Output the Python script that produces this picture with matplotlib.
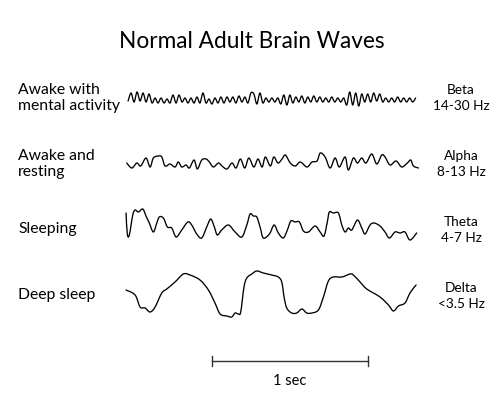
import numpy as np
import matplotlib
matplotlib.use("Agg")
import matplotlib.pyplot as plt
from matplotlib.path import Path
from matplotlib.patches import PathPatch

plt.rcParams['font.family'] = ['Lato', 'DejaVu Sans']

# wave traces: time in ms, amplitude in px (down is positive)
beta_step_ms = 19.2
beta_amp = [2, -6, 3, -7, 2, -6, 3, -5,
            4, -1, 4, -1, 4, 0, 4,
            -4, 4, -4, 3,
            -1, 4, -1, 4, -2, 4,
            -6, 4,
            0, 5, -1, 4, -2, 4,
            -2, 3, -2, 4, -3, 3, -2, 4,
            -6, -5, 5, -6, 4,
            -1, 3, -1, 3, -1,
            5, -4, 6, -4,
            4, -2, 3, -3, 4, -2, 3, -3, 3, -2,
            3, -1, 3, -2, 3, -1, 3, -1,
            6, -7, 6, -6, 7, -5,
            3, -5, 3, -6, 2, -5,
            3, -1, 3, -1, 3, -2, 3, -1, 3, -1, 3, -1]

alpha_t = [4, 37, 69, 94, 128, 154, 175, 207, 229, 250, 282, 314, 335, 357, 385,
           406, 436, 457, 485, 513, 534, 560, 592, 615, 647, 679, 705, 733, 761,
           787, 819, 846, 872, 893, 925, 947, 974, 1000, 1021, 1053, 1085, 1117,
           1160, 1192, 1224, 1245, 1276, 1308, 1340, 1367, 1404, 1425, 1457, 1483,
           1511, 1538, 1575, 1607, 1639, 1660, 1692, 1731, 1767, 1803, 1825, 1842,
           1874]
alpha_amp = [1, 6, 1, 4, -4, 5, -4, -6, -5, 4, 2, 5, 0, 5, 3,
             6, -2, 7, -2, -3, 0, 5, 1, 4, 7, 1, 6, -3, 6,
             -4, 5, -3, 5, -5, 4, -5, 1, -3, -7, 1, 4, 0,
             5, 0, -1, -9, -5, 6, -4, 5, -5, 8, -4, 1,
             -4, 1, -8, 2, -7, -5, 3, -1, 5, 1, -2, 4,
             6]

theta_t = [0, 8, 21, 43, 58, 79, 107, 128, 149, 175, 197, 213, 239, 265, 293,
           321, 357, 396, 421, 453, 485, 517, 543, 566, 585, 613, 656, 699, 742,
           774, 795, 816, 838, 859, 880, 919, 949, 976, 1008, 1034, 1056, 1083,
           1111, 1137, 1169, 1212, 1244, 1269, 1290, 1303, 1329, 1361, 1383, 1404,
           1425, 1447, 1483, 1511, 1532, 1564, 1590, 1628, 1660, 1688, 1724, 1756,
           1788, 1820, 1863]
theta_amp = [-12, 9, 10, -10, -15, -13, -16, -9, -2, 7, -2, -8, -7, 2, 3,
             12, 5, -3, 0, 9, 13, 2, -6, 2, 10, 5, 0, 7, 12,
             0, -11, -9, -8, 2, 13, 9, 0, 8, 13, 5, -4, -3,
             -3, 6, 7, 1, 7, 11, -3, -13, -12, -12, 0, 7,
             3, 5, -5, 3, 9, 0, -2, 1, 7, 13, 7, 8,
             7, 15, 8]

delta_t = [0, 58, 90, 122, 154, 186, 229, 261, 314, 367, 410, 474, 528, 570, 603,
           646, 677, 699, 720, 735, 756, 774, 806, 838, 880, 934, 976, 998, 1013,
           1030, 1062, 1094, 1127, 1158, 1190, 1233, 1265, 1297, 1329, 1383, 1436,
           1457, 1500, 1543, 1628, 1682, 1714, 1746, 1788, 1820, 1859]
delta_amp = [-3, 2, 14, 15, 19, 14, 0, -4, -11, -19, -18, -13, -3, 10, 21,
             23, 24, 20, 21, 19, -6, -15, -19, -22, -20, -18, -16, -11, 4,
             15, 20, 20, 16, 20, 20, 17, 4, -12, -16, -16, -19,
             -18, -11, -4, 4, 12, 18, 13, 10, 0, -8]

left_labels = ["Awake with\nmental activity", "Awake and\nresting", "Sleeping", "Deep sleep"]
right_labels = ["Beta\n14-30 Hz", "Alpha\n8-13 Hz", "Theta\n4-7 Hz", "Delta\n<3.5 Hz"]

beta_t = np.arange(len(beta_amp)) * beta_step_ms + 13

waves = [(beta_t, beta_amp), (alpha_t, alpha_amp), (theta_t, theta_amp), (delta_t, delta_amp)]
row_y = [99, 162, 225, 293]          # baseline of each trace (px from top)
left_y = [98, 164, 229, 295]
right_y = [98, 164, 230, 296]


# smooth curve through every read point (Catmull-Rom as cubic bezier path)
def smooth_path(x, y):
    p = np.column_stack([x, y]).astype(float)
    p = np.vstack([p[0], p, p[-1]])
    verts = [p[1]]
    codes = [Path.MOVETO]
    for i in range(1, len(p) - 2):
        c1 = p[i] + (p[i + 1] - p[i - 1]) / 6
        c2 = p[i + 1] - (p[i + 2] - p[i]) / 6
        verts += [c1, c2, p[i + 1]]
        codes += [Path.CURVE4] * 3
    return Path(verts, codes)


fig = plt.figure(figsize=(5, 4), dpi=100)
ax = fig.add_axes([0, 0, 1, 1])
ax.set_xlim(-808, 2397)
ax.set_ylim(400, 0)
ax.axis('off')

for (t, a), y0 in zip(waves, row_y):
    path = smooth_path(t, y0 + np.array(a))
    ax.add_patch(PathPatch(path, facecolor='none', edgecolor='black', lw=0.95,
                           joinstyle='round', capstyle='round'))

# scale bar: 1 sec
ax.plot([551, 1551], [361, 361], color='#333333', lw=1.0)
ax.plot([551, 551], [356, 366], color='#333333', lw=1.0)
ax.plot([1551, 1551], [356, 366], color='#333333', lw=1.0)


def px(x, y):
    return x / 500, 1 - y / 400


fig.text(*px(252, 42), "Normal Adult Brain Waves", ha='center', va='center', fontsize=16.3)
for lab, y in zip(left_labels, left_y):
    fig.text(*px(18, y), lab, ha='left', va='center', fontsize=11.3, linespacing=1.2)
for lab, y in zip(right_labels, right_y):
    fig.text(*px(461, y), lab, ha='center', va='center', fontsize=9.8, linespacing=1.35)
fig.text(*px(290, 381), "1 sec", ha='center', va='center', fontsize=10.5)

fig.savefig("out.png", dpi=100)
